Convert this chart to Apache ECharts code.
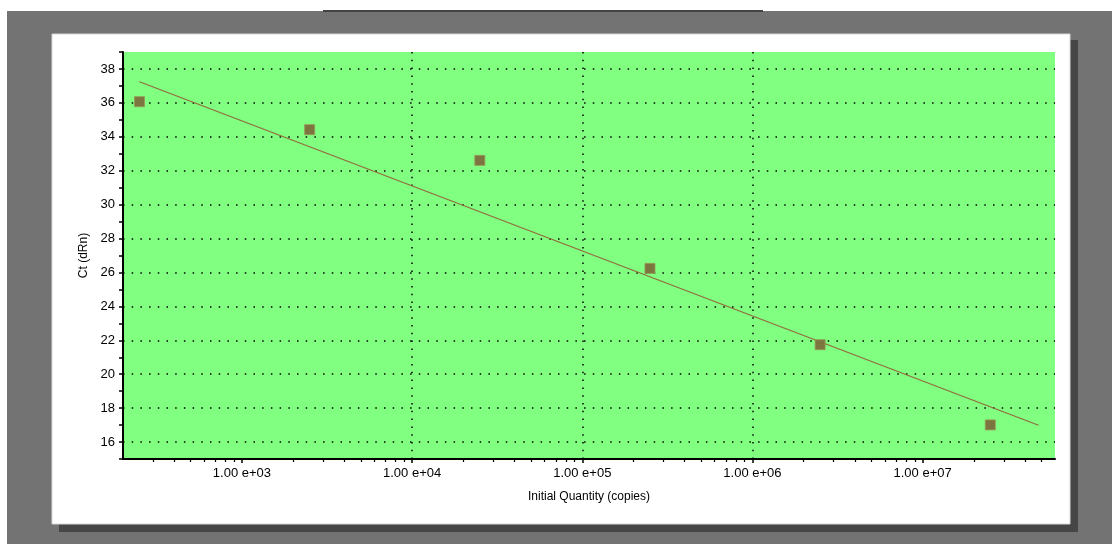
<!DOCTYPE html>
<html>
<head>
<meta charset="utf-8">
<script src="https://cdn.jsdelivr.net/npm/echarts@6/dist/echarts.min.js"></script>
<style>
html,body{margin:0;padding:0;background:#fff;}
#chart{width:1112px;height:544px;}
</style>
</head>
<body>
<div id="chart"></div>
<script>
// ---- data ----
const quantities = [250, 2500, 25000, 250000, 2500000, 25000000];
const ctValues = [36.07, 34.42, 32.61, 26.24, 21.74, 17.01];
const fitX = [250, 48000000];
const fitY = [37.25, 16.99];
const xTickValues = [1e3, 1e4, 1e5, 1e6, 1e7];
const xTickLabels = ['1.00 e+03', '1.00 e+04', '1.00 e+05', '1.00 e+06', '1.00 e+07'];
const xMinorTickValues = [
  300, 400, 500, 600, 700, 800, 900,
  2000, 3000, 4000, 5000, 6000, 7000, 8000, 9000,
  2e4, 3e4, 4e4, 5e4, 6e4, 7e4, 8e4, 9e4,
  2e5, 3e5, 4e5, 5e5, 6e5, 7e5, 8e5, 9e5,
  2e6, 3e6, 4e6, 5e6, 6e6, 7e6, 8e6, 9e6,
  2e7, 3e7, 4e7, 5e7
];
const yTickLabels = ['16','18','20','22','24','26','28','30','32','34','36','38'];
const xName = 'Initial Quantity (copies)';
const yName = 'Ct (dRn)';

const chart = echarts.init(document.getElementById('chart'), null, {renderer: 'canvas'});
const FONT = '"Liberation Sans", Arial, sans-serif';

function xLabel(v) {
  for (let i = 0; i < xTickValues.length; i++) {
    if (Math.abs(v - xTickValues[i]) / xTickValues[i] < 1e-6) return xTickLabels[i];
  }
  return '';
}

const option = {
  backgroundColor: '#ffffff',
  animation: false,
  graphic: {
    elements: [
      {type: 'rect', z: -10, shape: {x: 7, y: 11, width: 1105, height: 533}, style: {fill: '#737373'}},
      {type: 'rect', z: -10, shape: {x: 323, y: 10, width: 440, height: 2}, style: {fill: '#444444'}},
      {type: 'rect', z: -9, shape: {x: 1070, y: 40, width: 8, height: 492}, style: {fill: '#464646'}},
      {type: 'rect', z: -9, shape: {x: 59, y: 524, width: 1019, height: 8}, style: {fill: '#464646'}},
      {type: 'rect', z: -8, shape: {x: 52, y: 34, width: 1018, height: 490}, style: {fill: '#ffffff', stroke: '#d8d8d8', lineWidth: 1}}
    ]
  },
  grid: {
    left: 123, top: 52, right: 57, bottom: 85,
    show: true, backgroundColor: '#80ff80', borderWidth: 0,
    containLabel: false
  },
  xAxis: [
    {
      type: 'log', logBase: 10, min: 200, max: 6e7, position: 'bottom',
      name: xName, nameLocation: 'middle', nameGap: 32,
      nameTextStyle: {fontFamily: FONT, fontSize: 12, color: '#000'},
      axisLine: {show: true, lineStyle: {color: '#000', width: 2}},
      axisTick: {show: true, length: 4, lineStyle: {color: '#000', width: 1.5}, customValues: xTickValues},
      axisLabel: {show: true, customValues: xTickValues, formatter: xLabel, fontFamily: FONT, fontSize: 13, color: '#000', margin: 8},
      splitLine: {show: true, showMinLine: false, showMaxLine: false, lineStyle: {color: '#000', width: 1.5, type: [1.5, 6.3]}}
    },
    {
      type: 'log', logBase: 10, min: 200, max: 6e7, position: 'bottom',
      axisLine: {show: false},
      axisTick: {show: true, length: 3, lineStyle: {color: '#000', width: 1.2}, customValues: xMinorTickValues},
      axisLabel: {show: false},
      splitLine: {show: false}
    }
  ],
  yAxis: {
    type: 'value', min: 15, max: 39, interval: 1,
    name: yName, nameLocation: 'middle', nameGap: 30, nameRotate: 90,
    nameTextStyle: {fontFamily: FONT, fontSize: 12, color: '#000'},
    axisLine: {show: true, lineStyle: {color: '#000', width: 2}},
    axisTick: {show: true, length: 4, lineStyle: {color: '#000', width: 1.5}},
    axisLabel: {
      fontFamily: FONT, fontSize: 13, color: '#000', margin: 8,
      formatter: function (v) { const s = String(v); return yTickLabels.indexOf(s) >= 0 ? s : ''; }
    },
    splitLine: {show: true, lineStyle: {color: ['rgba(0,0,0,0)', '#000'], width: 1.5, type: [1.5, 7.2]}}
  },
  series: [
    {
      type: 'line', xAxisIndex: 0,
      data: fitX.map((x, i) => [x, fitY[i]]),
      showSymbol: false, symbol: 'none',
      lineStyle: {color: '#94683c', width: 1.1},
      z: 3
    },
    {
      type: 'scatter', xAxisIndex: 0,
      data: quantities.map((x, i) => [x, ctValues[i]]),
      symbol: 'rect', symbolSize: 10,
      itemStyle: {color: '#7d7540', borderColor: '#9a9455', borderWidth: 0.8, opacity: 1},
      z: 4
    }
  ]
};
chart.setOption(option);
</script>
</body>
</html>
